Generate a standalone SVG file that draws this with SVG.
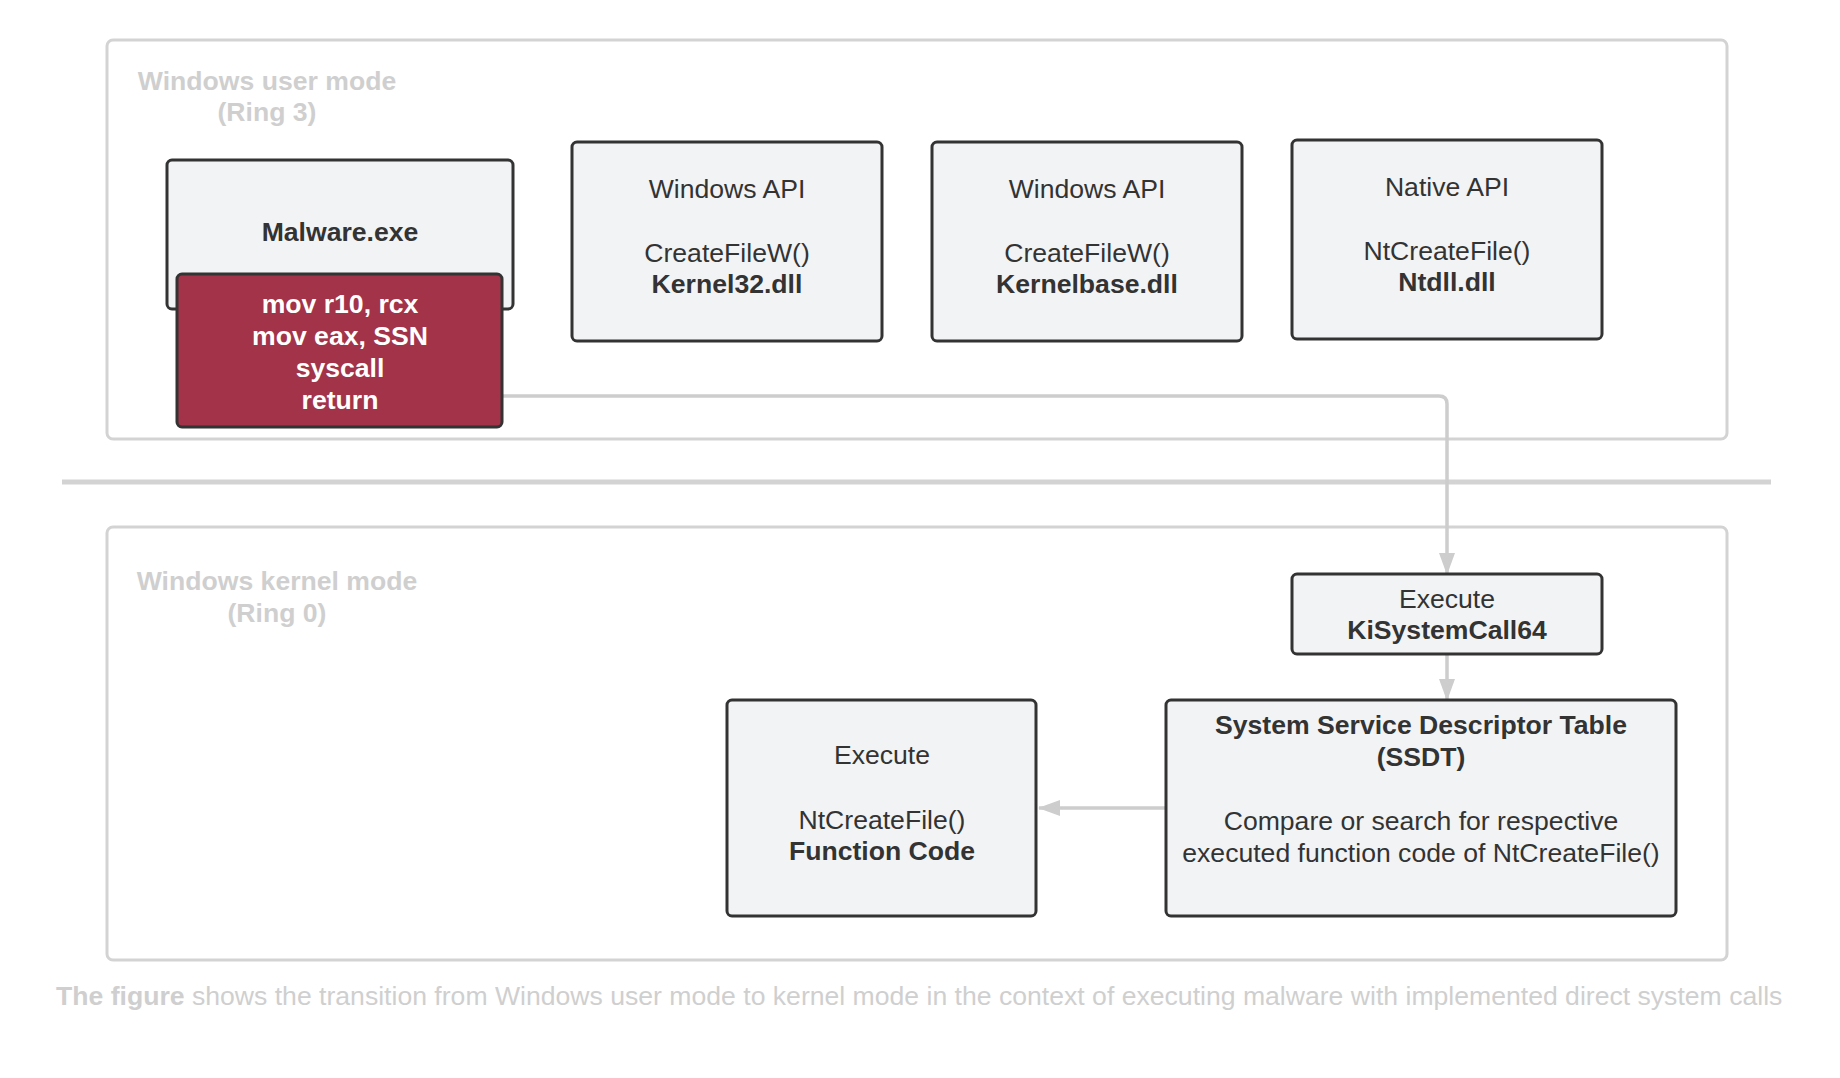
<svg xmlns="http://www.w3.org/2000/svg" width="1840" height="1078" viewBox="0 0 1840 1078">
<defs>
<style>
text{font-family:"Liberation Sans",Arial,sans-serif;font-size:26.6px;fill:#333333;text-anchor:middle}
.b{font-weight:bold}
.title{fill:#CFCFCF;font-weight:bold}
.cap{fill:#CFCFCF;text-anchor:start}
.frame{fill:none;stroke:#D3D3D3;stroke-width:3}
.box{fill:#F2F3F5;stroke:#333333;stroke-width:3}
.red{fill:#A23348;stroke:#333333;stroke-width:3}
.w{fill:#FFFFFF;font-weight:bold}
.conn{fill:none;stroke:#CDCDCD;stroke-width:3.5}
</style>
<marker id="ah" viewBox="0 0 22 16" refX="21" refY="8" markerWidth="22" markerHeight="16" markerUnits="userSpaceOnUse" orient="auto">
<path d="M0,0 L22,8 L0,16 Z" fill="#CDCDCD"/>
</marker>
</defs>
<rect width="1840" height="1078" fill="#FFFFFF"/>

<g id="user-mode">
<rect class="frame" x="107" y="40" width="1620" height="399" rx="6"/>
<text class="title" x="267" y="90">Windows user mode</text>
<text class="title" x="267" y="121">(Ring 3)</text>
</g>

<line x1="62" y1="482" x2="1771" y2="482" stroke="#D3D3D3" stroke-width="5"/>

<g id="kernel-mode">
<rect class="frame" x="107" y="527" width="1620" height="433" rx="6"/>
<text class="title" x="277" y="590">Windows kernel mode</text>
<text class="title" x="277" y="622">(Ring 0)</text>
</g>

<g id="connectors">
<path class="conn" d="M502,396 H1439 Q1447,396 1447,404 V574" marker-end="url(#ah)"/>
<path class="conn" d="M1447,655 V700" marker-end="url(#ah)"/>
<path class="conn" d="M1166,808 H1039" marker-end="url(#ah)"/>
</g>

<g id="malware">
<rect class="box" x="167" y="160" width="346" height="149" rx="5"/>
<text class="b" x="340" y="241">Malware.exe</text>
</g>

<g id="stub">
<rect class="red" x="177" y="274" width="325" height="153" rx="5"/>
<text class="w" x="340" y="313">mov r10, rcx</text>
<text class="w" x="340" y="345">mov eax, SSN</text>
<text class="w" x="340" y="377">syscall</text>
<text class="w" x="340" y="409">return</text>
</g>

<g id="kernel32">
<rect class="box" x="572" y="142" width="310" height="199" rx="5"/>
<text x="727" y="198">Windows API</text>
<text x="727" y="262">CreateFileW()</text>
<text class="b" x="727" y="293">Kernel32.dll</text>
</g>

<g id="kernelbase">
<rect class="box" x="932" y="142" width="310" height="199" rx="5"/>
<text x="1087" y="198">Windows API</text>
<text x="1087" y="262">CreateFileW()</text>
<text class="b" x="1087" y="293">Kernelbase.dll</text>
</g>

<g id="ntdll">
<rect class="box" x="1292" y="140" width="310" height="199" rx="5"/>
<text x="1447" y="196">Native API</text>
<text x="1447" y="260">NtCreateFile()</text>
<text class="b" x="1447" y="291">Ntdll.dll</text>
</g>

<g id="kisystemcall">
<rect class="box" x="1292" y="574" width="310" height="80" rx="5"/>
<text x="1447" y="608">Execute</text>
<text class="b" x="1447" y="639">KiSystemCall64</text>
</g>

<g id="ssdt">
<rect class="box" x="1166" y="700" width="510" height="216" rx="5"/>
<text class="b" x="1421" y="734">System Service Descriptor Table</text>
<text class="b" x="1421" y="766">(SSDT)</text>
<text x="1421" y="830">Compare or search for respective</text>
<text x="1421" y="862">executed function code of NtCreateFile()</text>
</g>

<g id="ntcreatefile">
<rect class="box" x="727" y="700" width="309" height="216" rx="5"/>
<text x="882" y="764">Execute</text>
<text x="882" y="829">NtCreateFile()</text>
<text class="b" x="882" y="860">Function Code</text>
</g>

<text class="cap" x="56" y="1005"><tspan font-weight="bold">The figure</tspan> shows the transition from Windows user mode to kernel mode in the context of executing malware with implemented direct system calls</text>
</svg>
